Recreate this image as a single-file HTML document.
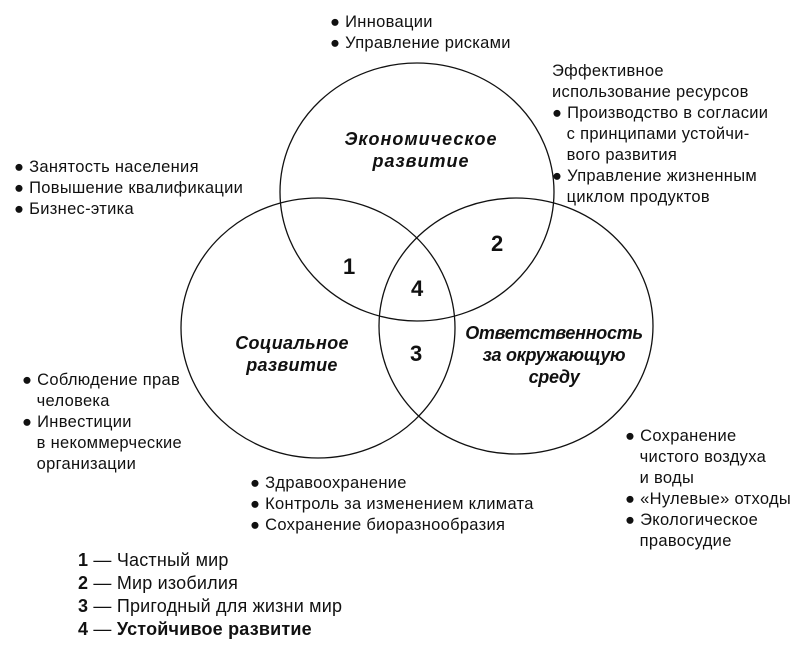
<!DOCTYPE html>
<html><head><meta charset="utf-8"><style>
body{margin:0;width:800px;height:645px;background:#fff;font-family:"Liberation Sans",sans-serif;color:#111;position:relative;overflow:hidden}
.t{position:absolute;font-size:16.5px;letter-spacing:0.3px;line-height:21px;white-space:nowrap}
.b{position:absolute;font-weight:bold;font-style:italic;font-size:18px;line-height:22px;text-align:center;white-space:nowrap}
.n{position:absolute;font-weight:bold;font-size:22px}
</style></head><body>
<svg width="800" height="645" style="position:absolute;left:0;top:0">
<g fill="none" stroke="#111" stroke-width="1.3">
<ellipse cx="417" cy="192" rx="137" ry="129"/>
<ellipse cx="318" cy="328" rx="137" ry="130"/>
<ellipse cx="516" cy="326" rx="137" ry="128"/>
</g></svg>
<div class="t" style="left:330px;top:12px">● Инновации<br>● Управление рисками</div>
<div class="t" style="left:552px;top:61px">Эффективное<br>использование ресурсов<br>● Производство в согласии<br>&nbsp;&nbsp;&nbsp;с принципами устойчи-<br>&nbsp;&nbsp;&nbsp;вого развития<br>● Управление жизненным<br>&nbsp;&nbsp;&nbsp;циклом продуктов</div>
<div class="t" style="left:14px;top:157px">● Занятость населения<br>● Повышение квалификации<br>● Бизнес-этика</div>
<div class="t" style="left:22px;top:370px">● Соблюдение прав<br>&nbsp;&nbsp;&nbsp;человека<br>● Инвестиции<br>&nbsp;&nbsp;&nbsp;в некоммерческие<br>&nbsp;&nbsp;&nbsp;организации</div>
<div class="t" style="left:625px;top:426px">● Сохранение<br>&nbsp;&nbsp;&nbsp;чистого воздуха<br>&nbsp;&nbsp;&nbsp;и воды<br>● «Нулевые» отходы<br>● Экологическое<br>&nbsp;&nbsp;&nbsp;правосудие</div>
<div class="t" style="left:250px;top:473px">● Здравоохранение<br>● Контроль за изменением климата<br>● Сохранение биоразнообразия</div>
<div class="t" style="left:78px;top:549px;font-size:18px;letter-spacing:0.2px;line-height:23px"><b>1</b> — Частный мир<br><b>2</b> — Мир изобилия<br><b>3</b> — Пригодный для жизни мир<br><b>4</b> — <b>Устойчивое развитие</b></div>
<div class="b" style="left:331px;top:128px;width:180px;letter-spacing:1px">Экономическое<br>развитие</div>
<div class="b" style="left:202px;top:332px;width:180px;letter-spacing:0.3px">Социальное<br>развитие</div>
<div class="b" style="left:464px;top:322px;width:180px;letter-spacing:-0.3px">Ответственность<br>за окружающую<br>среду</div>
<div class="n" style="left:343px;top:254px">1</div>
<div class="n" style="left:491px;top:231px">2</div>
<div class="n" style="left:410px;top:341px">3</div>
<div class="n" style="left:411px;top:276px">4</div>
</body></html>
